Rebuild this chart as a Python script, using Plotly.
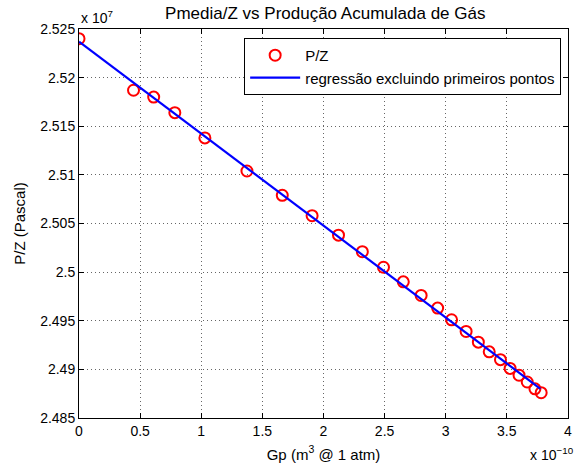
import plotly.graph_objects as go

# Data (x in units of 1e-10 m^3, y in units of 1e7 Pa)
gp = [0.0, 0.446, 0.611, 0.784, 1.030, 1.374, 1.663, 1.907, 2.123, 2.318, 2.491,
      2.653, 2.799, 2.934, 3.048, 3.167, 3.267, 3.356, 3.448, 3.527, 3.600,
      3.667, 3.730, 3.781]
pz = [2.5240, 2.5187, 2.5180, 2.5164, 2.5138, 2.5104, 2.5079, 2.5058, 2.5038,
      2.5021, 2.5005, 2.4990, 2.4976, 2.4963, 2.4951, 2.4939, 2.4928, 2.4918,
      2.4910, 2.4901, 2.4894, 2.4887, 2.4880, 2.4876]
reg_x = [0.0, 3.775]
reg_y = [2.5237, 2.4880]

xticks = [0, 0.5, 1, 1.5, 2, 2.5, 3, 3.5, 4]
xticklabels = ["0", "0.5", "1", "1.5", "2", "2.5", "3", "3.5", "4"]
yticks = [2.485, 2.49, 2.495, 2.5, 2.505, 2.51, 2.515, 2.52, 2.525]
yticklabels = ["2.485", "2.49", "2.495", "2.5", "2.505", "2.51", "2.515", "2.52", "2.525"]

FONT = "Liberation Sans, Arial, Helvetica, sans-serif"

fig = go.Figure()
fig.add_trace(go.Scatter(
    x=gp, y=pz, mode="markers", name="P/Z",
    marker=dict(symbol="circle-open", size=11, color="#ff0000",
                line=dict(width=2, color="#ff0000")),
))
fig.add_trace(go.Scatter(
    x=reg_x, y=reg_y, mode="lines", name="regressão excluindo primeiros pontos",
    line=dict(color="#0000ff", width=2.2),
))

axis_common = dict(
    showline=True, linecolor="black", linewidth=1, mirror="ticks",
    ticks="inside", ticklen=5, tickcolor="black",
    showgrid=True, gridcolor="rgba(0,0,0,0.6)", griddash="1px,3px", gridwidth=1,
    zeroline=False, tickfont=dict(family=FONT, size=14, color="black"),
    ticklabeloverflow="allow",
)

fig.update_layout(
    width=574, height=470,
    margin=dict(l=79, r=2, t=29, b=52),
    paper_bgcolor="white", plot_bgcolor="white",
    font=dict(family=FONT, size=14, color="black"),
    title=dict(text="Pmedia/Z vs Produção Acumulada de Gás", x=0.5667, xanchor="center",
               y=0.973, yanchor="middle", font=dict(family=FONT, size=17, color="black")),
    xaxis=dict(range=[0, 4.0005], tickvals=xticks, ticktext=xticklabels,
               title=dict(text="Gp (m<sup>3</sup> @ 1 atm)", standoff=11,
                          font=dict(family=FONT, size=15)),
               **axis_common),
    yaxis=dict(range=[2.485, 2.525], tickvals=yticks, ticktext=yticklabels,
               title=dict(text="P/Z (Pascal)", standoff=10,
                          font=dict(family=FONT, size=15)),
               **axis_common),
    legend=dict(x=0.986, y=0.977, xanchor="right", yanchor="top",
                bgcolor="white", bordercolor="black", borderwidth=1,
                font=dict(family=FONT, size=15, color="black"),
                tracegroupgap=0, itemwidth=50),
    showlegend=True,
)

fig.add_annotation(text="x 10<sup>7</sup>", xref="paper", yref="paper",
                   x=0.0, y=1.0, xanchor="left", yanchor="bottom", showarrow=False,
                   yshift=1, font=dict(family=FONT, size=14, color="black"))
fig.add_annotation(text="x 10<sup>−10</sup>", xref="paper", yref="paper",
                   x=0.919, y=0, xanchor="left", yanchor="top", showarrow=False,
                   yshift=-25, font=dict(family=FONT, size=14, color="black"))

fig.write_html("out.html")
